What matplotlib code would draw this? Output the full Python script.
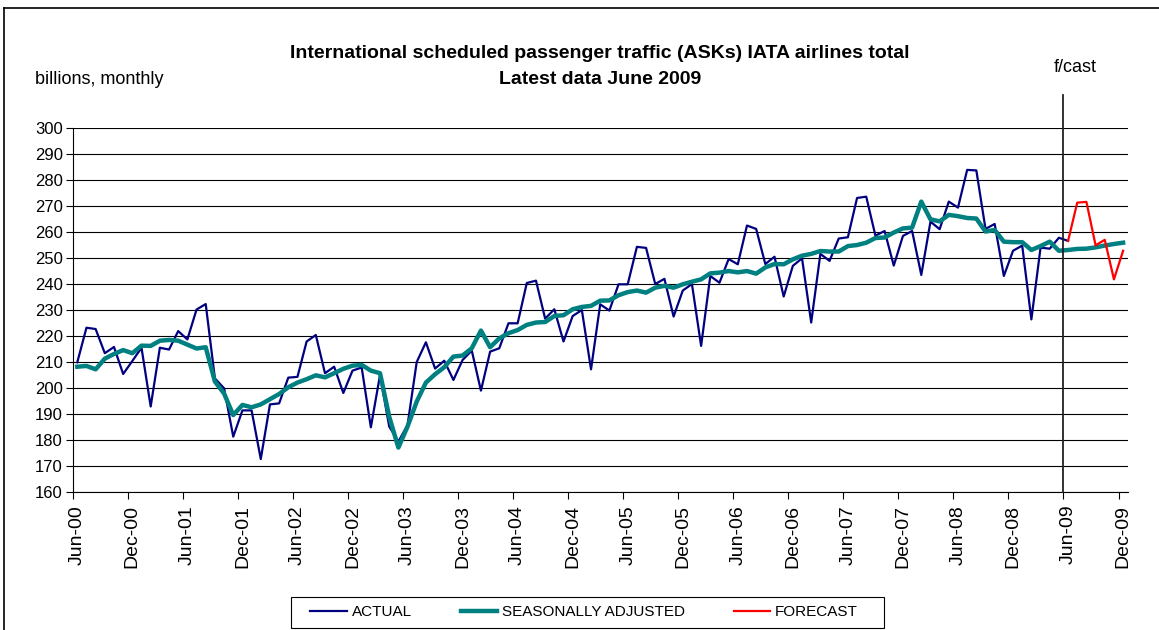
import matplotlib
matplotlib.use("Agg")
import matplotlib.pyplot as plt
from matplotlib.lines import Line2D
from matplotlib.patches import Rectangle
import numpy as np

plt.rcParams['font.family'] = ['Liberation Sans', 'DejaVu Sans']

# monthly values, Jun-00 .. Dec-09 (115 months)
actual = [210.0, 223.3, 222.8, 213.5, 215.9, 205.5, 210.5, 215.6, 193.0, 215.6,
          214.9, 222.0, 218.8, 230.3, 232.4, 203.8, 200.0, 181.4, 191.5, 191.5,
          172.8, 193.8, 194.2, 204.1, 204.4, 218.0, 220.5, 205.8, 208.3, 198.2,
          206.8, 208.0, 185.0, 205.1, 185.3, 179.5, 185.9, 210.1, 217.7, 207.6,
          210.6, 203.2, 210.9, 214.5, 199.1, 214.1, 215.4, 225.0, 225.0, 240.5,
          241.4, 226.8, 230.4, 218.0, 227.8, 230.1, 207.3, 232.3, 229.9, 240.0,
          240.0, 254.4, 254.0, 240.1, 242.1, 227.6, 237.6, 240.1, 216.3, 243.2,
          240.6, 249.7, 247.7, 262.6, 261.3, 247.8, 250.6, 235.3, 247.1, 250.0,
          225.3, 251.7, 249.0, 257.6, 258.1, 273.2, 273.7, 258.7, 260.5, 247.2,
          258.6, 260.5, 243.6, 264.1, 261.2, 271.8, 269.5, 284.0, 283.8, 261.3,
          263.2, 243.2, 252.9, 254.9, 226.5, 254.1, 253.7, 257.9, 256.7]

seas_adj = [208.3, 208.6, 207.3, 211.4, 213.2, 214.7, 213.5, 216.4, 216.3, 218.3,
            218.6, 218.3, 216.8, 215.3, 215.8, 202.6, 198.0, 189.7, 193.6, 192.7,
            193.8, 195.8, 197.8, 200.4, 202.2, 203.5, 205.0, 204.2, 205.8, 207.5,
            208.7, 209.0, 206.8, 205.8, 189.1, 177.2, 185.3, 194.9, 202.2, 205.4,
            208.1, 212.2, 212.6, 215.4, 222.2, 215.8, 219.2, 221.2, 222.4, 224.4,
            225.3, 225.5, 227.8, 228.1, 230.4, 231.3, 231.7, 233.7, 233.8, 235.8,
            237.0, 237.6, 236.8, 238.7, 239.4, 238.7, 240.0, 241.0, 241.9, 244.2,
            244.5, 245.1, 244.6, 245.1, 244.1, 246.5, 247.8, 247.7, 249.6, 251.0,
            251.7, 252.8, 252.6, 252.6, 254.7, 255.1, 256.0, 257.8, 258.0, 259.9,
            261.5, 261.8, 271.8, 265.0, 264.2, 266.7, 266.2, 265.5, 265.3, 260.3,
            260.9, 256.4, 256.2, 256.2, 253.2, 254.7, 256.4, 252.9, 253.2, 253.6,
            253.7, 254.2, 254.9, 255.5, 256.0]

# Jun-09 .. Dec-09
forecast = [256.7, 271.4, 271.7, 255.0, 257.1, 241.9, 252.9]

tick_labels = ['Jun-00', 'Dec-00', 'Jun-01', 'Dec-01', 'Jun-02', 'Dec-02',
               'Jun-03', 'Dec-03', 'Jun-04', 'Dec-04', 'Jun-05', 'Dec-05',
               'Jun-06', 'Dec-06', 'Jun-07', 'Dec-07', 'Jun-08', 'Dec-08',
               'Jun-09', 'Dec-09']

n = len(seas_adj)
x = np.arange(n)
x_act = x[:len(actual)]
x_fc = x[len(actual) - 1:]
fcast_start = len(actual) - 1  # Jun-09

W, H = 1159, 630
fig = plt.figure(figsize=(W / 100, H / 100), dpi=100)
ax = fig.add_axes([72.7 / W, 1 - 492.3 / H, (1127.7 - 72.7) / W, (492.3 - 128.3) / H])

ax.plot(x_act, actual, color='#000080', lw=1.6, zorder=3)
ax.plot(x, seas_adj, color='#008080', lw=3.2, zorder=4, solid_joinstyle='round')
ax.plot(x_fc, forecast, color='#FF0000', lw=1.6, zorder=5)

ax.set_xlim(-0.5, n - 0.5)
ax.set_ylim(160, 300)
ax.set_yticks(np.arange(160, 301, 10))
ax.yaxis.grid(True, color='black', lw=0.8)
ax.set_axisbelow(True)

# tick marks sit between categories, labels on the category
ax.set_xticks(np.arange(0, n, 6) - 0.5, minor=True)
ax.set_xticks(np.arange(0, n, 6))
ax.set_xticklabels(tick_labels, rotation=90, fontsize=14)
ax.tick_params(axis='x', which='major', length=0, pad=9)
ax.tick_params(axis='x', which='minor', length=5, width=0.8, direction='out')
ax.tick_params(axis='y', length=5, width=0.8, labelsize=12, pad=2)

for s in ['top', 'right']:
    ax.spines[s].set_visible(False)
for s in ['left', 'bottom']:
    ax.spines[s].set_linewidth(0.8)

# forecast divider
ax.plot([fcast_start - 0.5] * 2, [160, 300 + (128.3 - 95) / 2.6], color='#222222',
        lw=1.3, clip_on=False, zorder=6)
fig.text(1075.5 / W, 1 - 67 / H, 'f/cast', ha='center', va='center', fontsize=13)

fig.text(600 / W, 1 - 53 / H, 'International scheduled passenger traffic (ASKs) IATA airlines total',
         ha='center', va='center', fontsize=14, fontweight='bold')
fig.text(600 / W, 1 - 80 / H, 'Latest data June 2009',
         ha='center', va='center', fontsize=14, fontweight='bold')
fig.text(35 / W, 1 - 80 / H, 'billions, monthly', ha='left', va='center', fontsize=13)

handles = [Line2D([], [], color='#000080', lw=1.6),
           Line2D([], [], color='#008080', lw=3.2),
           Line2D([], [], color='#FF0000', lw=1.6)]
fig.legend(handles, ['ACTUAL', 'SEASONALLY ADJUSTED', 'FORECAST'],
           loc='center', bbox_to_anchor=(584 / W, 1 - 612.5 / H), ncol=3,
           fontsize=11, frameon=False, handlelength=2.4,
           handletextpad=0.3, columnspacing=3.2)
fig.add_artist(Rectangle((291 / W, 1 - 628 / H), (884 - 291) / W, 31 / H,
                         transform=fig.transFigure, fill=False,
                         edgecolor='black', lw=0.8))

# outer chart border (top and left visible)
fig.add_artist(Line2D([4 / W, 1.0], [1 - 8 / H] * 2, color='black', lw=1.2,
                      transform=fig.transFigure))
fig.add_artist(Line2D([4 / W] * 2, [0.0, 1 - 8 / H], color='black', lw=1.2,
                      transform=fig.transFigure))

fig.savefig('out.png', dpi=100)
